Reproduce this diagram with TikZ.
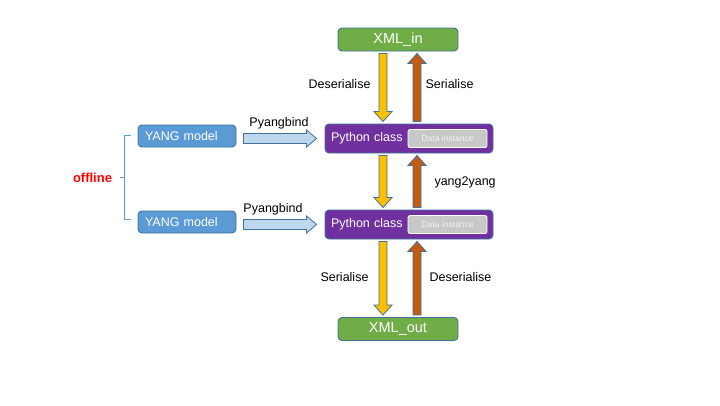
\documentclass[tikz,border=0pt]{standalone}
\usepackage{fontspec}
\setmainfont{Liberation Sans}
\usetikzlibrary{positioning,calc}

\definecolor{xmlgreen}{HTML}{70AD47}
\definecolor{classpurple}{HTML}{7030A0}
\definecolor{yangblue}{HTML}{5B9BD5}
\definecolor{edgeblue}{HTML}{41719C}
\definecolor{argold}{HTML}{FFC000}
\definecolor{arbrown}{HTML}{C55A11}
\definecolor{arlight}{HTML}{BDD7EE}
\definecolor{datagray}{HTML}{C8C8C8}

\tikzset{
    box/.style={draw=edgeblue, line width=0.9pt, rounded corners=4pt, text=white,
        inner sep=0pt, font=\fontsize{12.5}{15}\selectfont},
    xmlbox/.style={box, fill=xmlgreen, minimum width=120pt, minimum height=23pt,
        font=\fontsize{14.5}{17}\selectfont},
    classbox/.style={box, fill=classpurple, text width=156pt, inner xsep=6pt,
        align=left, minimum height=29pt},
    yangbox/.style={box, fill=yangblue, text width=84pt, inner xsep=7pt,
        align=left, minimum height=22pt},
    databox/.style={draw=white, line width=0.8pt, fill=datagray, rounded corners=2pt,
        minimum width=79pt, minimum height=18pt, inner sep=0pt, text=white!95!black,
        font=\fontsize{8.5}{10}\selectfont},
    lbl/.style={font=\fontsize{12.5}{15}\selectfont},
    goldarrow/.style={draw=edgeblue, line width=0.8pt, fill=argold},
    brownarrow/.style={draw=edgeblue, line width=0.8pt, fill=arbrown},
    lightarrow/.style={draw=edgeblue, line width=0.8pt, fill=arlight},
    bracket/.style={yangblue, line width=0.9pt}
}

% block arrow: style, from, to, shaft half width, head half width
\newcommand{\blockarrow}[5]{%
    \draw[#1] let \p1=(#2), \p2=(#3),
        \n1={atan2(\y2-\y1,\x2-\x1)}, \n2={veclen(\x2-\x1,\y2-\y1)},
        \n3={\n2-2pt}, \n4={\n2-12pt} in
        [shift={(\p1)}, rotate=\n1]
        (2pt,-#4) -- (\n4,-#4) -- (\n4,-#5) -- (\n3,0pt)
        -- (\n4,#5) -- (\n4,#4) -- (2pt,#4) -- cycle;}

\begin{document}
\begin{tikzpicture}[x=1pt, y=-1pt]
    \useasboundingbox[fill=white] (0,0) rectangle (720,405);

    % Boxes
    \node[xmlbox] (xmlin) at (398,39.5) {XML\_in};
    \node[classbox] (pyin) at (409,138.5) {Python class};
    \node[databox, anchor=east] (datain) at ([xshift=-6pt]pyin.east) {Data instance};
    \node[classbox] (pyout) at (409,224.5) {Python class};
    \node[databox, anchor=east] (dataout) at ([xshift=-6pt]pyout.east) {Data instance};
    \node[xmlbox] (xmlout) at (398,329) {XML\_out};
    \node[yangbox] (yangin) at (187,136) {YANG model};
    \node[yangbox] (yangout) at (187,222) {YANG model};

    % Lanes of the vertical arrows
    \coordinate (down) at (383,0);
    \coordinate (up) at (417,0);

    % Down arrows
    \blockarrow{goldarrow}{xmlin.south -| down}{pyin.north -| down}{4pt}{9pt}
    \blockarrow{goldarrow}{pyin.south -| down}{pyout.north -| down}{4pt}{9pt}
    \blockarrow{goldarrow}{pyout.south -| down}{xmlout.north -| down}{4pt}{9pt}

    % Up arrows
    \blockarrow{brownarrow}{pyin.north -| up}{xmlin.south -| up}{4pt}{9pt}
    \blockarrow{brownarrow}{pyout.north -| up}{pyin.south -| up}{4pt}{9pt}
    \blockarrow{brownarrow}{xmlout.north -| up}{pyout.south -| up}{4pt}{9pt}

    % Pyangbind arrows
    \blockarrow{lightarrow}{$(yangin.east |- pyin.west)+(5,0)$}{$(pyin.west)+(-6,0)$}{5pt}{8.5pt}
    \blockarrow{lightarrow}{$(yangout.east |- pyout.west)+(5,0)$}{$(pyout.west)+(-6,0)$}{5pt}{8.5pt}

    % Labels
    \node[lbl, anchor=east] (deserin) at (374,84) {Deserialise};
    \node[lbl, anchor=west] (serin) at (422,84) {Serialise};
    \node[lbl, anchor=west] (y2y) at (431,182) {yang2yang};
    \node[lbl, anchor=east] (serout) at (372,277) {Serialise};
    \node[lbl, anchor=west] (deserout) at (426,277) {Deserialise};
    \node[lbl] (bindin) at (279,123) {Pyangbind};
    \node[lbl] (bindout) at (273,209) {Pyangbind};

    % Bracket
    \draw[bracket] (131,135) -- (124,135) -- (124,219) -- (131,219);
    \draw[bracket] (124,177) -- (120,177);
    \node[font=\fontsize{13}{15}\selectfont\bfseries, text=red] (offline) at (92.5,178) {offline};
\end{tikzpicture}
\end{document}
